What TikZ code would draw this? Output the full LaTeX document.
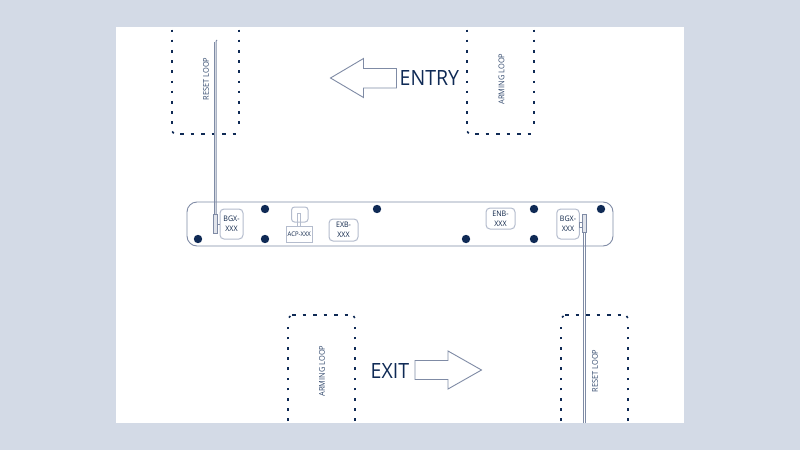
\documentclass[tikz,border=0pt]{standalone}
\usepackage{fontspec}
\setmainfont[FakeStretch=0.93]{Open Sans}
\usetikzlibrary{positioning}
\definecolor{pagebg}{HTML}{D3DAE6}
\definecolor{navy}{HTML}{0F2A55}
\definecolor{edge}{HTML}{7F8BA5}
\definecolor{softedge}{HTML}{B4BCCD}
\tikzset{
  bar/.style={draw=edge,line width=.9pt,rounded corners=10pt},
  hole/.style={circle,fill=navy,draw=none,minimum size=8.4pt,inner sep=0pt},
  device/.style={draw=softedge,line width=1pt,rounded corners=4pt,inner sep=0pt,align=center,font=\fontsize{7.6}{10}\selectfont,text=navy!85!black},
  loopv/.style={draw=navy,line width=1.8pt,line cap=butt,dash pattern=on 2.6pt off 7.6pt},
  looph/.style={draw=navy,line width=1.8pt,line cap=butt,dash pattern=on 3.5pt off 7pt},
  loopc/.style={draw=navy,line width=1.6pt,line cap=butt},
  looplabel/.style={rotate=90,font=\fontsize{8}{10}\selectfont,text=navy!85,inner sep=0pt},
  bigword/.style={font=\fontsize{21}{24}\selectfont,text=navy,inner sep=0pt},
  bigarrow/.style={draw=edge,line width=.9pt,fill=white,line join=miter},
  wire/.style={draw=edge,line width=1pt},
  sensor/.style={draw=edge,line width=1pt,fill=softedge!40,inner sep=0pt,minimum width=4.2pt,minimum height=18.5pt}
}
\begin{document}
\begin{tikzpicture}[x=1pt,y=-1pt]
\useasboundingbox (0,0) rectangle (800,450);
\fill[pagebg] (0,0) rectangle (800,450);
\fill[white] (116,27) rectangle (684,423);

% loops open at the top edge
\foreach \l/\r in {172/239,467/534}{
  \draw[loopv] (\l,29.5) -- (\l,130);
  \draw[loopv] (\r,29.5) -- (\r,130);
  \draw[looph] (\l+8,134) -- (\r-3,134);
  \draw[loopc] (\l+.2,131.5) -- (\l+1.8,133.3);
}
% loops open at the bottom edge
\foreach \l/\r in {288/355,561/628}{
  \draw[loopv] (\l,421) -- (\l,321);
  \draw[loopv] (\r,421) -- (\r,321);
  \draw[looph] (\l+4,315) -- (\r-3,315);
  \draw[loopc] (\r-1.5,316) -- (\r-.2,318);
  \draw[loopc] (\l+1,317.5) -- (\l+2.5,316);
}
\node[looplabel] (lreset1) at (206,79) {RESET LOOP};
\node[looplabel] (larm1) at (501.5,79) {ARMING LOOP};
\node[looplabel] (larm2) at (322,371) {ARMING LOOP};
\node[looplabel] (lreset2) at (595,371) {RESET LOOP};

% bar
\draw[bar] (187,202) rectangle (613,246);

% holes
\node[hole] (h1) at (198,239) {};
\node[hole] (h2) at (265,209) {};
\node[hole] (h3) at (265,239) {};
\node[hole] (h4) at (377,209) {};
\node[hole] (h5) at (466,239) {};
\node[hole] (h6) at (534,209) {};
\node[hole] (h7) at (534,239) {};
\node[hole] (h8) at (601,209) {};

% devices
\node[device,minimum width=23pt,minimum height=30pt] (bgxl) at (231.5,224) {BGX-\\XXX};
\node[device,minimum width=22.5pt,minimum height=30pt] (bgxr) at (568,224) {BGX-\\XXX};
\node[device,minimum width=29pt,minimum height=22pt] (exb) at (343.5,230) {EXB-\\XXX};
\node[device,minimum width=29pt,minimum height=21pt] (enb) at (500.5,218.5) {ENB-\\XXX};
\node[device,rounded corners=0pt,minimum width=26.5pt,minimum height=16.5pt,font=\fontsize{6.4}{8}\selectfont] (acp) at (299.3,234.3) {ACP-XXX};
\node[draw=softedge,line width=1pt,rounded corners=3pt,minimum width=16.5pt,minimum height=15pt,inner sep=0pt] (acptop) at (299.8,214.5) {};
\node[draw=softedge,line width=.9pt,inner sep=0pt,minimum width=3.5pt,minimum height=13pt] (acpstem) at (298.8,219.5) {};

% sensors and leads
\coordinate (ltopa) at (214.2,42);
\coordinate (ltopb) at (217,40);
\coordinate (rbota) at (583.4,423);
\coordinate (rbotb) at (585.6,423);
\draw[wire] (214.2,233) -- (ltopa);
\draw[wire] (216.2,233) -- (216.2,41) -- (ltopb);
\draw[wire] (rbota) -- (583.4,233);
\draw[wire] (rbotb) -- (585.6,233);
\node[sensor] (sl) at (215.3,224) {};
\node[sensor] (sr) at (584.4,223.5) {};
\draw[wire] (sl.east) -- (bgxl.west);
\node[draw=edge,line width=.8pt,inner sep=0pt,minimum width=3pt,minimum height=5pt,fill=white] (lnk) at (580.7,224.5) {};

% arrows
\draw[bigarrow] (396.5,68.5) -- (363.5,68.5) -- (363.5,58.5) -- (330.5,78) -- (363.5,97.5) -- (363.5,88) -- (396.5,88) -- cycle;
\draw[bigarrow] (415,360.5) -- (448,360.5) -- (448,351) -- (481.5,370) -- (448,389) -- (448,379.5) -- (415,379.5) -- cycle;
\node[bigword,anchor=west] (entry) at (399.5,78) {ENTRY};
\node[bigword,anchor=west] (exit) at (370.5,370.5) {EXIT};
\end{tikzpicture}
\end{document}
